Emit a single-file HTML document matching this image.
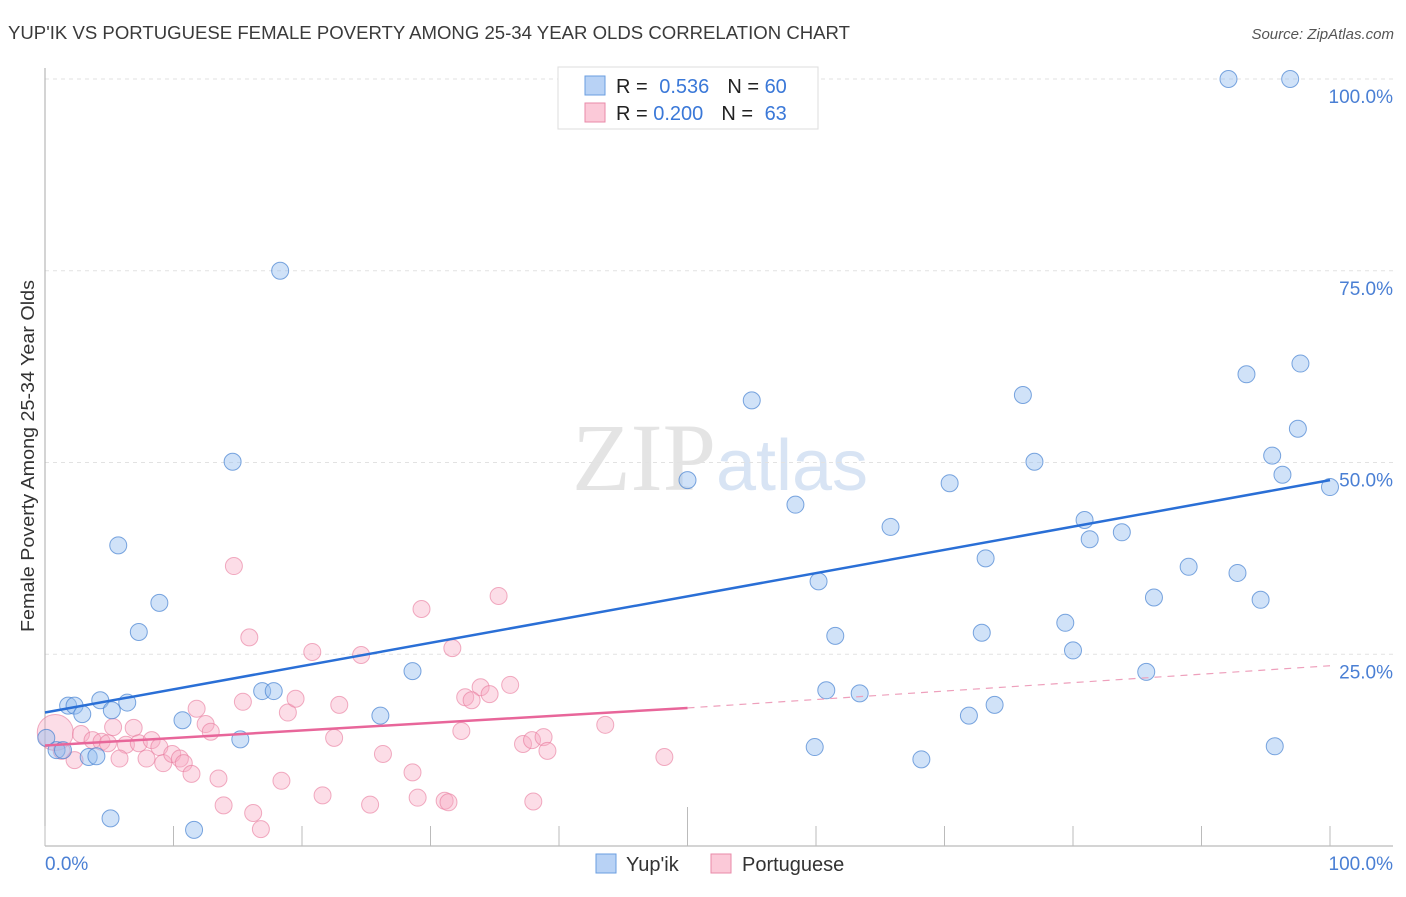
<!DOCTYPE html>
<html><head><meta charset="utf-8"><style>
body{margin:0;background:#fff;font-family:"Liberation Sans",sans-serif}
</style></head><body>
<svg id="c" width="1406" height="892" xmlns="http://www.w3.org/2000/svg" font-family="Liberation Sans, sans-serif">
<text x="8" y="39" font-size="18" fill="#3a3a3a" textLength="842" lengthAdjust="spacingAndGlyphs">YUP'IK VS PORTUGUESE FEMALE POVERTY AMONG 25-34 YEAR OLDS CORRELATION CHART</text>
<text x="1394" y="39" font-size="15" fill="#555" text-anchor="end" font-style="italic">Source: ZipAtlas.com</text>
<text x="720" y="490" font-size="96" fill="#e4e4e4" text-anchor="middle" font-family="Liberation Serif, serif">ZIP<tspan fill="#d8e4f4" font-family="Liberation Sans, sans-serif" font-size="72">atlas</tspan></text>
<g id="grid"></g><g id="axes"></g><g id="pts"></g><g id="lines"></g>
<text transform="translate(34,456) rotate(-90)" font-size="18" fill="#333" text-anchor="middle" textLength="352" lengthAdjust="spacingAndGlyphs">Female Poverty Among 25-34 Year Olds</text>
<text x="45" y="870" font-size="19" fill="#4a7fd4">0.0%</text>
<text x="1393" y="870" font-size="19" fill="#4a7fd4" text-anchor="end">100.0%</text>
<g>
<rect x="558" y="67" width="260" height="62" fill="#fff" stroke="#ddd"/>
<rect x="585" y="76" width="20" height="19" fill="#b8d2f5" stroke="#6a9ee0"/>
<rect x="585" y="103" width="20" height="19" fill="#fbc9d8" stroke="#e88aa8"/>
<text x="616" y="93" font-size="20" fill="#222">R = <tspan fill="#3a78d8" dx="6">0.536</tspan><tspan dx="18">N = </tspan><tspan fill="#3a78d8">60</tspan></text>
<text x="616" y="120" font-size="20" fill="#222">R = <tspan fill="#3a78d8">0.200</tspan><tspan dx="18">N = </tspan><tspan fill="#3a78d8" dx="6">63</tspan></text>
</g>
<g>
<rect x="596" y="854" width="20" height="19" fill="#b8d2f5" stroke="#6a9ee0"/>
<text x="626" y="871" font-size="20" fill="#333">Yup'ik</text>
<rect x="711" y="854" width="20" height="19" fill="#fbc9d8" stroke="#e88aa8"/>
<text x="742" y="871" font-size="20" fill="#333">Portuguese</text>
</g>
</svg>
<script>
const yTicks=[25,50,75,100];
const yTickLabels=["25.0%","50.0%","75.0%","100.0%"];
const xTicks=[0,10,20,30,40,50,60,70,80,90,100];
const yupikX=[92.1,96.9,18.3,97.7,93.5,55.0,76.1,97.5,14.6,77.0,95.5,96.3,50.0,70.4,100,58.4,65.8,80.9,81.3,83.8,5.7,73.2,89.0,92.8,60.2,86.3,94.6,8.9,7.3,61.5,72.9,79.4,80.0,28.6,85.7,16.9,17.8,60.8,63.4,1.8,2.3,4.3,6.4,2.9,5.2,73.9,71.9,26.1,10.7,95.7,59.9,15.2,0.1,0.9,1.4,3.4,4.0,68.2,5.1,11.6];
const yupikY=[100,100,75,62.9,61.5,58.1,58.8,54.4,50.1,50.1,50.9,48.4,47.7,47.3,46.8,44.5,41.6,42.5,40.0,40.9,39.2,37.5,36.4,35.6,34.5,32.4,32.1,31.7,27.9,27.4,27.8,29.1,25.5,22.8,22.7,20.2,20.2,20.3,19.9,18.3,18.3,19.0,18.7,17.2,17.7,18.4,17.0,17.0,16.4,13.0,12.9,13.9,14.1,12.5,12.5,11.6,11.7,11.3,3.6,2.1];
const portX=[0.8,2.8,5.3,6.9,3.7,4.4,4.9,6.3,7.3,8.3,8.9,2.3,1.3,5.8,7.9,9.2,9.9,10.5,10.8,11.4,11.8,12.5,12.9,13.5,13.9,16.2,16.8,15.4,18.4,18.9,19.5,22.5,22.9,21.6,25.3,26.3,28.6,29.0,31.1,32.7,33.9,33.2,34.6,31.4,32.4,37.2,37.9,38.0,38.8,39.1,43.6,48.2,36.2,14.7,24.6,29.3,35.3,15.9,20.8,31.7];
const portY=[14.8,14.6,15.5,15.4,13.8,13.6,13.4,13.2,13.4,13.8,12.9,11.2,12.4,11.4,11.4,10.8,12.0,11.4,10.8,9.4,17.9,15.9,14.9,8.8,5.3,4.3,2.2,18.8,8.5,17.4,19.2,14.1,18.4,6.6,5.4,12.0,9.6,6.3,5.9,19.4,20.7,19.0,19.8,5.7,15.0,13.3,13.8,5.8,14.2,12.4,15.8,11.6,21.0,36.5,24.9,30.9,32.6,27.2,25.3,25.8];
const W=12.85,X0=45,Y0=846,H=7.67;
const sx=v=>X0+v*W, sy=v=>Y0-v*H;
const NS="http://www.w3.org/2000/svg";
function mk(t,a,p){const e=document.createElementNS(NS,t);for(const k in a)e.setAttribute(k,a[k]);p.appendChild(e);return e;}
const grid=document.getElementById('grid'),axes=document.getElementById('axes'),pts=document.getElementById('pts'),lines=document.getElementById('lines');
yTicks.forEach((v,i)=>{
 const l=mk('line',{x1:45,x2:1393,y1:sy(v),y2:sy(v),stroke:'#e2e2e2','stroke-dasharray':'4,4'},grid);
 
 
 const t=mk('text',{x:1393,y:sy(v)+24,'font-size':19,fill:'#4a7fd4','text-anchor':'end'},grid);
 t.textContent=yTickLabels[i];
 
 
});
const ya=mk('line',{x1:45,x2:45,y1:68,y2:846,stroke:'#aaa'},axes);


const xa=mk('line',{x1:45,x2:1393,y1:846,y2:846,stroke:'#aaa'},axes);


xTicks.forEach(v=>{
 const tk=mk('line',{x1:sx(v),x2:sx(v),y1:846,y2:v==50?807:826,stroke:'#bbb'},axes);
 
 
});
portX.forEach((x,i)=>{
 const c=mk('circle',{cx:sx(x),cy:sy(portY[i]),r:i==0?18:8.5,fill:'rgba(248,170,195,0.4)',stroke:'rgba(232,120,155,0.6)','stroke-width':1},pts);
 
 
});
yupikX.forEach((x,i)=>{
 const c=mk('circle',{cx:sx(x),cy:sy(yupikY[i]),r:8.5,fill:'rgba(150,190,240,0.45)',stroke:'rgba(70,130,210,0.7)','stroke-width':1},pts);
 
 
});
const bl=mk('line',{x1:sx(0),y1:sy(17.4),x2:sx(100),y2:sy(47.7),stroke:'#2a6fd6','stroke-width':2.5},lines);


const pl=mk('line',{x1:sx(0),y1:sy(13.1),x2:sx(50),y2:sy(18.0),stroke:'#e8669a','stroke-width':2.5},lines);


const pd=mk('line',{x1:sx(50),y1:sy(18.0),x2:sx(100),y2:sy(23.5),stroke:'#eea0bc','stroke-width':1.2,'stroke-dasharray':'7,6'},lines);


</script>
</body></html>
